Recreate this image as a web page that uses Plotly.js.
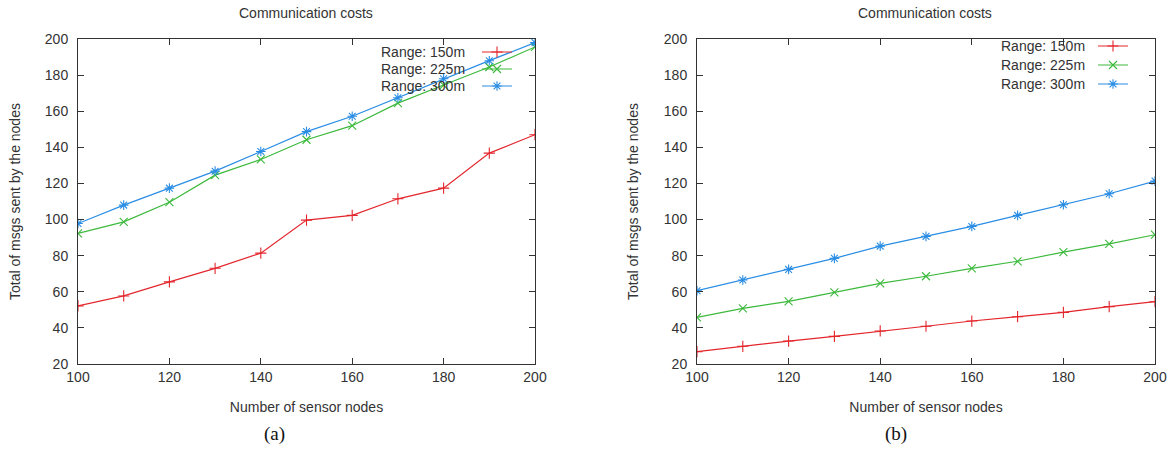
<!DOCTYPE html>
<html>
<head>
<meta charset="utf-8">
<script src="https://cdn.plot.ly/plotly-3.0.1.min.js"></script>
<style>html,body{margin:0;padding:0;background:#fff}#chart{width:1171px;height:452px}</style>
</head>
<body>
<div id="chart"></div>
<script>
// ---- data ----
const nodes = [100, 110, 120, 130, 140, 150, 160, 170, 180, 190, 200];
const seriesNames = ["Range: 150m", "Range: 225m", "Range: 300m"];

// (a)
const a_range150 = [52.2, 57.7, 65.5, 73.0, 81.4, 99.7, 102.3, 111.5, 117.4, 136.8, 147.0];
const a_range225 = [92.3, 98.7, 109.6, 124.6, 133.3, 144.2, 152.0, 164.5, 174.5, 184.5, 195.6];
const a_range300 = [97.8, 108.0, 117.4, 126.8, 137.7, 148.7, 157.2, 167.5, 178.0, 188.0, 198.0];

// (b)
const b_range150 = [26.8, 29.8, 32.7, 35.3, 38.3, 40.9, 43.8, 46.2, 48.6, 51.8, 54.5];
const b_range225 = [45.8, 50.8, 54.7, 59.7, 64.7, 68.6, 73.0, 76.9, 82.0, 86.5, 91.6];
const b_range300 = [60.6, 66.5, 72.4, 78.5, 85.3, 90.7, 96.2, 102.3, 108.2, 114.3, 121.3];

const chartTitle = "Communication costs";
const xTitle = "Number of sensor nodes";
const yTitle = "Total of msgs sent by the nodes";
const captions = ["(a)", "(b)"];

// ---- styles ----
const colors = ["#e3262c", "#3cb93c", "#2a8de4"];
const symbols = ["cross-thin-open", "x-thin-open", "asterisk-open"];
const FONT = "Liberation Sans, Arial, sans-serif";
const TXT = "#333333";

function mk(y, i, xa, ya, leg) {
  return {
    x: nodes, y: y, xaxis: xa, yaxis: ya, legend: leg,
    type: "scatter", mode: "lines+markers", name: "",
    hovertemplate: seriesNames[i] + ": %{y}<extra></extra>",
    line: {color: colors[i], width: 1.2},
    marker: {symbol: symbols[i], size: 8, color: colors[i], line: {color: colors[i], width: 1.1}},
    showlegend: true
  };
}

const data = [
  mk(a_range150, 0, "x", "y", "legend"),
  mk(a_range225, 1, "x", "y", "legend2"),
  mk(a_range300, 2, "x", "y", "legend3"),
  mk(b_range150, 0, "x2", "y2", "legend4"),
  mk(b_range225, 1, "x2", "y2", "legend5"),
  mk(b_range300, 2, "x2", "y2", "legend6")
];

function xax(dom) {
  return {
    domain: dom, range: [100, 200], dtick: 20, tick0: 100,
    ticks: "inside", ticklen: 6, tickcolor: "#333", mirror: "allticks",
    showline: true, linecolor: "#333", linewidth: 1, showgrid: false, zeroline: false,
    tickfont: {family: FONT, size: 14, color: TXT},
    title: {text: xTitle, font: {family: FONT, size: 14, color: TXT}, standoff: 18},
    automargin: false, fixedrange: true
  };
}
function yax(anchor, standoff) {
  return {
    anchor: anchor, domain: [0.1947, 0.9137], range: [20, 200], dtick: 20, tick0: 20,
    ticks: "inside", ticklen: 6, tickcolor: "#333", mirror: "allticks",
    showline: true, linecolor: "#333", linewidth: 1, showgrid: false, zeroline: false,
    tickfont: {family: FONT, size: 14, color: TXT}, ticklabelstandoff: 6,
    title: {text: yTitle, font: {family: FONT, size: 14, color: TXT}, standoff: standoff},
    automargin: false, fixedrange: true
  };
}

const xa = xax([78/1171, 535/1171]);
const xb = xax([697/1171, 1155/1171]);
const ya = yax("x", 20);
const yb = yax("x2", 21);

// one single-entry legend per series so each sample sits exactly beside its label
function leg(x, y) {
  return {x: x/1171, y: 1 - y/452, xanchor: "left", yanchor: "middle", bgcolor: "rgba(0,0,0,0)",
          borderwidth: 0, font: {family: FONT, size: 10, color: TXT}, tracegroupgap: 0,
          itemwidth: 30, itemclick: false, itemdoubleclick: false};
}

function lab(text, x, y) {
  return {text: text, xref: "paper", yref: "paper", x: x/1171, y: 1 - y/452, showarrow: false,
          xanchor: "right", yanchor: "middle", font: {family: FONT, size: 14, color: TXT}};
}

const layout = {
  width: 1171, height: 452,
  margin: {l: 0, r: 0, t: 0, b: 0},
  paper_bgcolor: "#fff", plot_bgcolor: "#fff",
  xaxis: xa, yaxis: ya, xaxis2: xb, yaxis2: yb,
  legend: leg(477, 52), legend2: leg(477, 69), legend3: leg(477, 86),
  legend4: leg(1093, 46), legend5: leg(1093, 65), legend6: leg(1093, 84),
  annotations: [
    {text: chartTitle, xref: "paper", yref: "paper", x: 306/1171, y: 1 - 13/452, showarrow: false,
     xanchor: "center", yanchor: "middle", font: {family: FONT, size: 14, color: TXT}},
    {text: chartTitle, xref: "paper", yref: "paper", x: 925/1171, y: 1 - 13/452, showarrow: false,
     xanchor: "center", yanchor: "middle", font: {family: FONT, size: 14, color: TXT}},
    {text: captions[0], xref: "paper", yref: "paper", x: 274/1171, y: 1 - 434/452, showarrow: false,
     xanchor: "center", yanchor: "middle", font: {family: "Liberation Serif, Times New Roman, serif", size: 19, color: "#111"}},
    {text: captions[1], xref: "paper", yref: "paper", x: 896/1171, y: 1 - 434/452, showarrow: false,
     xanchor: "center", yanchor: "middle", font: {family: "Liberation Serif, Times New Roman, serif", size: 19, color: "#111"}},
    // legend labels (right-aligned, sample to the right as in the original)
    lab(seriesNames[0], 467, 52), lab(seriesNames[1], 467, 69), lab(seriesNames[2], 467, 86),
    lab(seriesNames[0], 1087, 46), lab(seriesNames[1], 1087, 65), lab(seriesNames[2], 1087, 84)
  ]
};

Plotly.newPlot("chart", data, layout, {displayModeBar: false, staticPlot: true});
</script>
</body>
</html>
